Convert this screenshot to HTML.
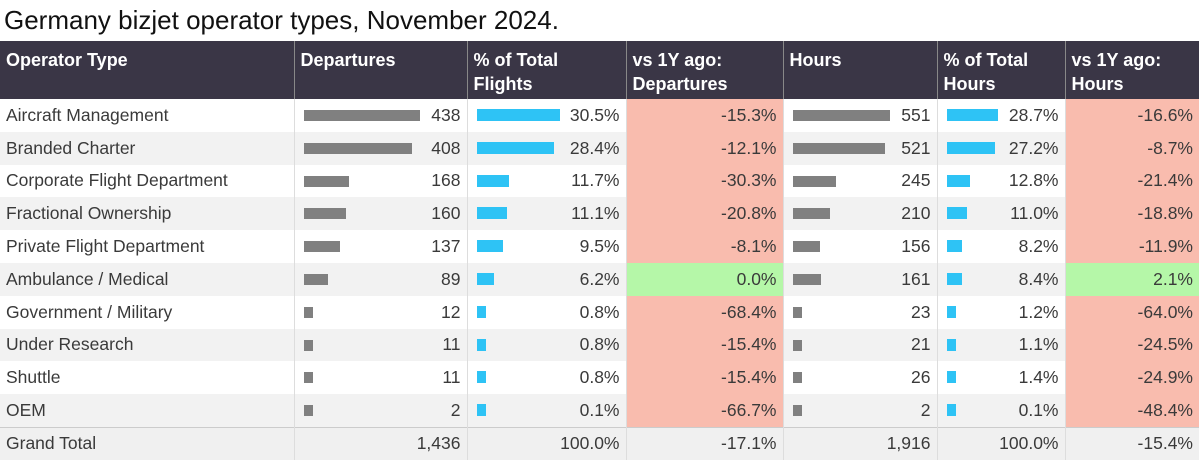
<!DOCTYPE html>
<html><head><meta charset="utf-8"><style>
body{margin:0;width:1199px;height:461px;background:#fff;overflow:hidden;font-family:"Liberation Sans",sans-serif;}
.title{position:absolute;left:4px;top:5px;font-size:26px;color:#111;}
table{position:absolute;left:0;top:41px;border-collapse:collapse;table-layout:fixed;width:1199px;}
th{background:#3a3646;color:#fff;font-weight:bold;font-size:18px;text-align:left;vertical-align:top;padding:7px 6px 0 6px;height:51px;line-height:24px;border-left:1px solid #888;}
th:first-child{border-left:none}
td{height:32.8px;padding:0 6px;font-size:17.5px;color:#3a3a3a;text-align:right;border-left:1px solid #ddd;position:relative;white-space:nowrap}
td:first-child{text-align:left;border-left:none}
tr.g td{background:#f2f2f2}
td.r{background:#f9bcae !important}
td.gr{background:#b5f7a8 !important}
tr.t td{height:32px;background:#f0f0f0;border-top:1px solid #ccc}
.b{position:absolute;left:9px;top:11px;height:11px;background:#808080}
.c{position:absolute;left:9px;top:10px;height:12px;background:#2ec3f5}
</style></head><body>
<div class="title">Germany bizjet operator types, November 2024.</div>
<table>
<colgroup><col style="width:294px"><col style="width:173px"><col style="width:159px"><col style="width:157px"><col style="width:154px"><col style="width:128px"><col style="width:134px"></colgroup>
<tr><th>Operator Type</th><th>Departures</th><th>% of Total<br>Flights</th><th>vs 1Y ago:<br>Departures</th><th>Hours</th><th>% of Total<br>Hours</th><th>vs 1Y ago:<br>Hours</th></tr>
<tr><td>Aircraft Management</td><td><div class="b" style="width:116px"></div>438</td><td><div class="c" style="width:83px"></div>30.5%</td><td class="r">-15.3%</td><td><div class="b" style="width:97px"></div>551</td><td><div class="c" style="width:51px"></div>28.7%</td><td class="r">-16.6%</td></tr>
<tr class="g"><td>Branded Charter</td><td><div class="b" style="width:108px"></div>408</td><td><div class="c" style="width:77px"></div>28.4%</td><td class="r">-12.1%</td><td><div class="b" style="width:92px"></div>521</td><td><div class="c" style="width:48px"></div>27.2%</td><td class="r">-8.7%</td></tr>
<tr><td>Corporate Flight Department</td><td><div class="b" style="width:45px"></div>168</td><td><div class="c" style="width:32px"></div>11.7%</td><td class="r">-30.3%</td><td><div class="b" style="width:43px"></div>245</td><td><div class="c" style="width:23px"></div>12.8%</td><td class="r">-21.4%</td></tr>
<tr class="g"><td>Fractional Ownership</td><td><div class="b" style="width:42px"></div>160</td><td><div class="c" style="width:30px"></div>11.1%</td><td class="r">-20.8%</td><td><div class="b" style="width:37px"></div>210</td><td><div class="c" style="width:20px"></div>11.0%</td><td class="r">-18.8%</td></tr>
<tr><td>Private Flight Department</td><td><div class="b" style="width:36px"></div>137</td><td><div class="c" style="width:26px"></div>9.5%</td><td class="r">-8.1%</td><td><div class="b" style="width:27px"></div>156</td><td><div class="c" style="width:15px"></div>8.2%</td><td class="r">-11.9%</td></tr>
<tr class="g"><td>Ambulance / Medical</td><td><div class="b" style="width:24px"></div>89</td><td><div class="c" style="width:17px"></div>6.2%</td><td class="gr">0.0%</td><td><div class="b" style="width:28px"></div>161</td><td><div class="c" style="width:15px"></div>8.4%</td><td class="gr">2.1%</td></tr>
<tr><td>Government / Military</td><td><div class="b" style="width:9px"></div>12</td><td><div class="c" style="width:9px"></div>0.8%</td><td class="r">-68.4%</td><td><div class="b" style="width:9px"></div>23</td><td><div class="c" style="width:9px"></div>1.2%</td><td class="r">-64.0%</td></tr>
<tr class="g"><td>Under Research</td><td><div class="b" style="width:9px"></div>11</td><td><div class="c" style="width:9px"></div>0.8%</td><td class="r">-15.4%</td><td><div class="b" style="width:9px"></div>21</td><td><div class="c" style="width:9px"></div>1.1%</td><td class="r">-24.5%</td></tr>
<tr><td>Shuttle</td><td><div class="b" style="width:9px"></div>11</td><td><div class="c" style="width:9px"></div>0.8%</td><td class="r">-15.4%</td><td><div class="b" style="width:9px"></div>26</td><td><div class="c" style="width:9px"></div>1.4%</td><td class="r">-24.9%</td></tr>
<tr class="g"><td>OEM</td><td><div class="b" style="width:9px"></div>2</td><td><div class="c" style="width:9px"></div>0.1%</td><td class="r">-66.7%</td><td><div class="b" style="width:9px"></div>2</td><td><div class="c" style="width:9px"></div>0.1%</td><td class="r">-48.4%</td></tr>
<tr class="t"><td>Grand Total</td><td>1,436</td><td>100.0%</td><td>-17.1%</td><td>1,916</td><td>100.0%</td><td>-15.4%</td></tr>
</table>
</body></html>
